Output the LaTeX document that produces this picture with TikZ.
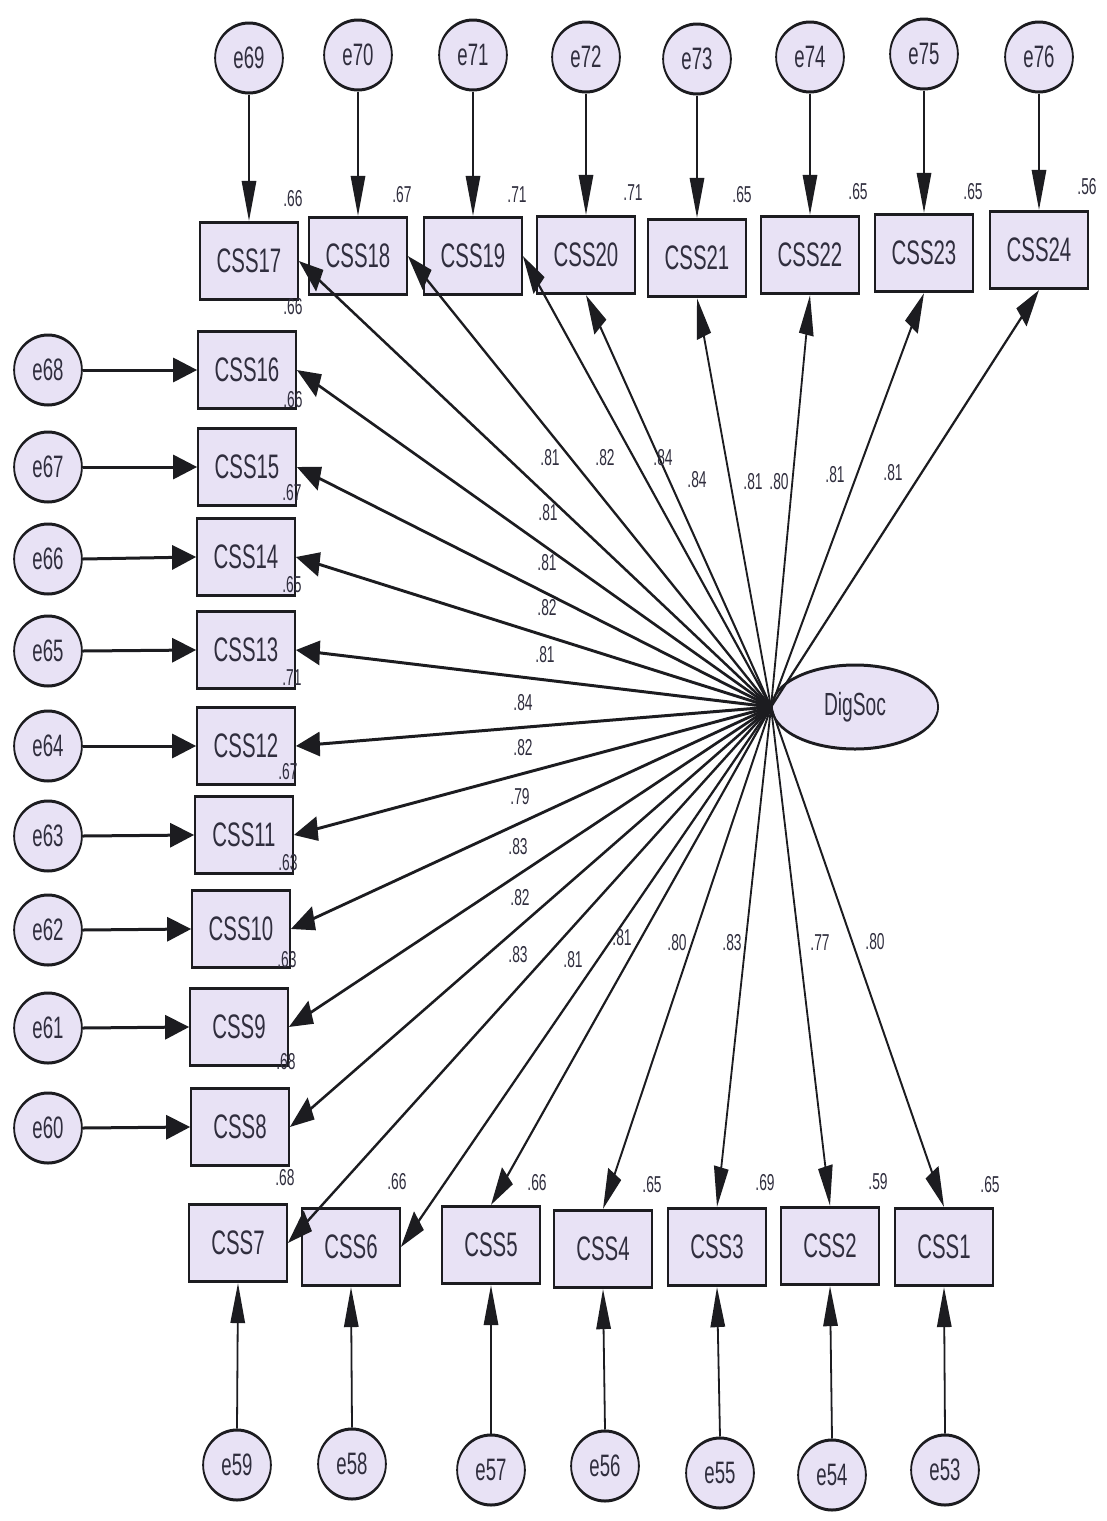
\documentclass[tikz,border=0pt]{standalone}
\usepackage{fontspec}
\setmainfont{Liberation Sans}
\usetikzlibrary{arrows.meta,shapes.geometric}
\definecolor{boxfill}{RGB}{232,226,245}
\definecolor{inkline}{RGB}{28,28,32}
\definecolor{inktext}{RGB}{48,46,62}
\tikzset{
  obs/.style={draw=inkline, fill=boxfill, line width=3.2pt, rectangle,
    minimum width=163pt, minimum height=77pt, inner sep=0pt, text=inktext,
    font=\fontsize{34}{36}\selectfont},
  err/.style={draw=inkline, fill=boxfill, line width=3pt, ellipse,
    minimum width=113pt, minimum height=70pt, inner sep=0pt, text=inktext,
    font=\fontsize{31}{33}\selectfont},
  lat/.style={draw=inkline, fill=boxfill, line width=3pt, ellipse,
    minimum width=277pt, minimum height=84pt, inner sep=0pt, text=inktext,
    font=\fontsize{32}{34}\selectfont},
  coef/.style={text=inktext, inner sep=0pt, font=\fontsize{23}{25}\selectfont},
  arr/.style={draw=inkline, line width=3pt, -{Triangle[length=40pt,width=24pt]}},
}
\begin{document}
\begin{tikzpicture}[x=1pt,y=-1pt]
\useasboundingbox (0,0) rectangle (1106,1521);
\fill[white] (0,0) rectangle (1106,1521);
% the diagram is drawn in a wide frame and squeezed horizontally
\begin{scope}[transform canvas={xscale=0.6}, x=1.666667pt]

% latent factor
\node[lat] (DigSoc) at (855,707) {DigSoc};

% indicators, top row
\foreach \n/\x/\y in {17/249/261, 18/358/256, 19/473/256, 20/586/255,
                      21/697/258, 22/810/255, 23/924/253, 24/1039/250}
  \node[obs] (CSS\n) at (\x,\y) {CSS\n};
% indicators, left column
\foreach \n/\x/\y in {16/247/370, 15/247/467, 14/246/557, 13/246/650,
                      12/246/746, 11/244/835, 10/241/929, 9/239/1027, 8/240/1127}
  \node[obs] (CSS\n) at (\x,\y) {CSS\n};
% indicators, bottom row
\foreach \n/\x/\y in {7/238/1243, 6/351/1247, 5/491/1245, 4/603/1249,
                      3/717/1247, 2/830/1246, 1/944/1247}
  \node[obs] (CSS\n) at (\x,\y) {CSS\n};

% error terms, top
\foreach \e/\n/\x/\y in {69/17/249/58, 70/18/358/55, 71/19/473/55, 72/20/586/57,
                         73/21/697/59, 74/22/810/57, 75/23/924/54, 76/24/1039/57}{
  \node[err] (e\e) at (\x,\y) {e\e};
  \draw[arr] (e\e.south) -- (CSS\n.north);
}
% error terms, left
\foreach \e/\n/\y in {68/16/370, 67/15/467, 66/14/559, 65/13/651, 64/12/746,
                      63/11/836, 62/10/930, 61/9/1028, 60/8/1128}{
  \node[err] (e\e) at (48,\y) {e\e};
  \draw[arr] (e\e.east) -- (CSS\n.west);
}
% error terms, bottom
\foreach \e/\n/\x/\y in {59/7/237/1465, 58/6/352/1464, 57/5/491/1470, 56/4/605/1466,
                         55/3/720/1473, 54/2/832/1475, 53/1/945/1470}{
  \node[err] (e\e) at (\x,\y) {e\e};
  \draw[arr] (e\e.north) -- (CSS\n.south);
}

% loadings from the factor
\foreach \n/\a in {17/east, 18/east, 19/east, 20/south, 21/south, 22/south, 23/south, 24/south,
                   16/east, 15/east, 14/east, 13/east, 12/east, 11/east, 10/east, 9/east, 8/east,
                   7/east, 6/east, 5/north, 4/north, 3/north, 2/north, 1/north}
  \draw[arr] (DigSoc.west) -- (CSS\n.\a);

% squared multiple correlations
\foreach \x/\y/\t [count=\i] in {293/199/.66, 402/195/.67, 517/195/.71, 633/193/.71,
    742/195/.65, 858/192/.65, 973/192/.65, 1087/187/.56,
    293/307/.66, 293/400/.66, 292/493/.67, 292/585/.65, 292/678/.71, 288/772/.67,
    288/863/.63, 287/960/.63, 286/1062/.68, 285/1178/.68,
    397/1182/.66, 537/1183/.66, 652/1185/.65, 765/1183/.69, 878/1182/.59, 990/1185/.65}
  \node[coef] (r\i) at (\x,\y) {\t};

% standardized loadings
\foreach \x/\y/\t [count=\i] in {550/458/.81, 605/458/.82, 663/458/.84, 697/480/.84,
    753/482/.81, 779/482/.80, 835/475/.81, 893/473/.81,
    548/513/.81, 547/563/.81, 547/608/.82, 545/655/.81, 523/703/.84, 523/748/.82,
    520/797/.79, 518/847/.83, 520/898/.82, 518/955/.83,
    573/960/.81, 622/938/.81, 677/943/.80, 732/943/.83, 820/943/.77, 875/942/.80}
  \node[coef] (p\i) at (\x,\y) {\t};

\end{scope}
\end{tikzpicture}
\end{document}
